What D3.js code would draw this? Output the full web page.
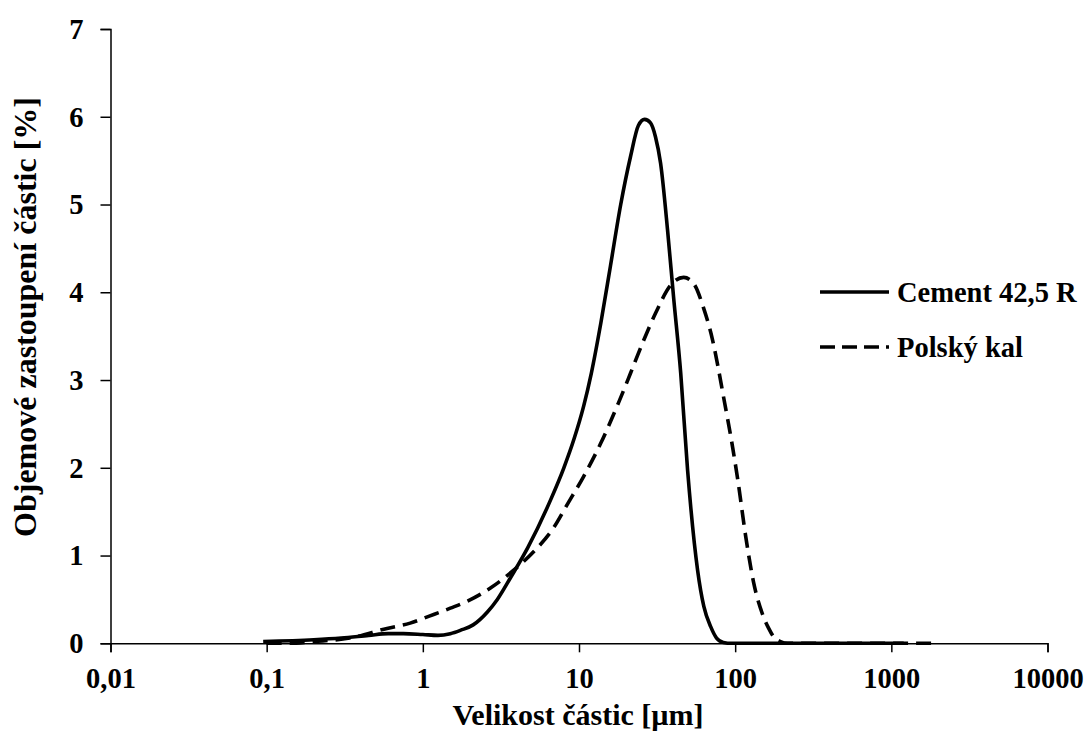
<!DOCTYPE html>
<html>
<head>
<meta charset="utf-8">
<script src="https://cdn.jsdelivr.net/npm/d3@7"></script>
<style>
  html, body { margin: 0; padding: 0; background: #fff; }
  text { font-family: "Liberation Serif", "Times New Roman", serif; font-weight: bold; fill: #000; }
</style>
</head>
<body>
<svg id="chart" width="1088" height="733"></svg>
<script>
// ---- data ----
const xTickValues = [0.01, 0.1, 1, 10, 100, 1000, 10000];
const xTickLabels = ["0,01", "0,1", "1", "10", "100", "1000", "10000"];
const yTickValues = [0, 1, 2, 3, 4, 5, 6, 7];
const seriesNames = ["Cement 42,5 R", "Polský kal"];

const cementX = [0.095, 0.2, 0.3, 0.45, 0.6, 0.75, 1.0, 1.25, 1.5, 1.75, 2.1, 2.6, 3.0, 3.65, 4.7, 6.6, 8.0, 9.3, 10.7, 12.0, 13.8, 15.9, 18.5, 21.4, 24, 26.3, 28.7, 30.9, 33.3, 36.9, 40.3, 44.8, 49.6, 57.5, 63, 69.7, 76, 84, 95, 200, 500, 1200];
const cementY = [0.02, 0.04, 0.06, 0.09, 0.11, 0.11, 0.10, 0.09, 0.11, 0.15, 0.21, 0.36, 0.5, 0.75, 1.09, 1.64, 2.0, 2.33, 2.7, 3.08, 3.65, 4.3, 5.0, 5.55, 5.9, 5.97, 5.93, 5.77, 5.47, 4.71, 3.95, 3.08, 1.97, 0.83, 0.42, 0.19, 0.06, 0.01, 0, 0, 0, 0];

const polskyX = [0.1, 0.14, 0.2, 0.34, 0.59, 0.83, 1.1, 1.5, 1.93, 2.71, 3.8, 5.1, 6.9, 8.4, 10.7, 13.7, 17.9, 21.4, 25.5, 30.9, 38.6, 46.8, 54.2, 62.8, 71.8, 77.3, 83.2, 96.4, 104, 117, 131, 152, 164, 177, 195, 217, 500, 1000, 1900];
const polskyY = [0, 0, 0.02, 0.06, 0.17, 0.23, 0.31, 0.40, 0.48, 0.63, 0.83, 1.04, 1.32, 1.58, 1.9, 2.27, 2.74, 3.08, 3.42, 3.76, 4.08, 4.17, 4.1, 3.82, 3.45, 3.17, 2.86, 2.23, 1.86, 1.21, 0.7, 0.3, 0.17, 0.07, 0.02, 0, 0, 0, 0];

// ---- layout ----
const svg = d3.select("#chart");
const x = d3.scaleLog().domain([0.01, 10000]).range([110.5, 1047.5]);
const y = d3.scaleLinear().domain([0, 7]).range([643.3, 29]);
const tickFont = 28.5;

// x axis
const xAxis = svg.append("g").attr("transform", `translate(0,${y(0)})`)
  .call(d3.axisBottom(x).tickValues(xTickValues).tickFormat((d, i) => xTickLabels[i]).tickSizeOuter(0).tickSize(9));
xAxis.select(".domain").attr("stroke", "#000").attr("stroke-width", 1.5);
xAxis.selectAll(".tick line").attr("stroke", "#000").attr("stroke-width", 1.5);
xAxis.selectAll(".tick text").attr("font-size", tickFont).attr("dy", null).attr("y", 45)
  .style("font-family", '"Liberation Serif", serif').style("font-weight", "bold");

// y axis
const yAxis = svg.append("g").attr("transform", `translate(${x(0.01)},0)`)
  .call(d3.axisLeft(y).tickValues(yTickValues).tickFormat(d3.format("d")).tickSizeOuter(0).tickSize(10));
yAxis.select(".domain").attr("stroke", "#000").attr("stroke-width", 1.5);
yAxis.selectAll(".tick line").attr("stroke", "#000").attr("stroke-width", 1.5);
yAxis.selectAll(".tick text").attr("font-size", tickFont).attr("x", -27).attr("dy", "0.33em")
  .style("font-family", '"Liberation Serif", serif').style("font-weight", "bold");

// axis titles
svg.append("text").attr("x", 578).attr("y", 725).attr("text-anchor", "middle")
  .attr("font-size", 30).text("Velikost částic [µm]");
svg.append("text").attr("transform", "translate(36,317) rotate(-90)").attr("text-anchor", "middle")
  .attr("font-size", 32).text("Objemové zastoupení částic [%]");

// lines
const line = d3.line().x(d => x(d[0])).y(d => y(d[1])).curve(d3.curveMonotoneX);
const cement = cementX.map((v, i) => [v, cementY[i]]);
const polsky = polskyX.map((v, i) => [v, polskyY[i]]);

svg.append("path").datum(polsky).attr("d", line).attr("fill", "none")
  .attr("stroke", "#000").attr("stroke-width", 3.6).attr("stroke-dasharray", "15,8");
svg.append("path").datum(cement).attr("d", line).attr("fill", "none")
  .attr("stroke", "#000").attr("stroke-width", 3.6);

// legend
const legend = svg.append("g");
const legendY = [292, 347];
const legendDash = [null, "15,7"];
seriesNames.forEach((name, i) => {
  legend.append("line").attr("x1", 820).attr("x2", 889).attr("y1", legendY[i]).attr("y2", legendY[i])
    .attr("stroke", "#000").attr("stroke-width", 3.6).attr("stroke-dasharray", legendDash[i]);
  legend.append("text").attr("x", 897).attr("y", legendY[i] + 10).attr("font-size", tickFont).text(name);
});
</script>
</body>
</html>
